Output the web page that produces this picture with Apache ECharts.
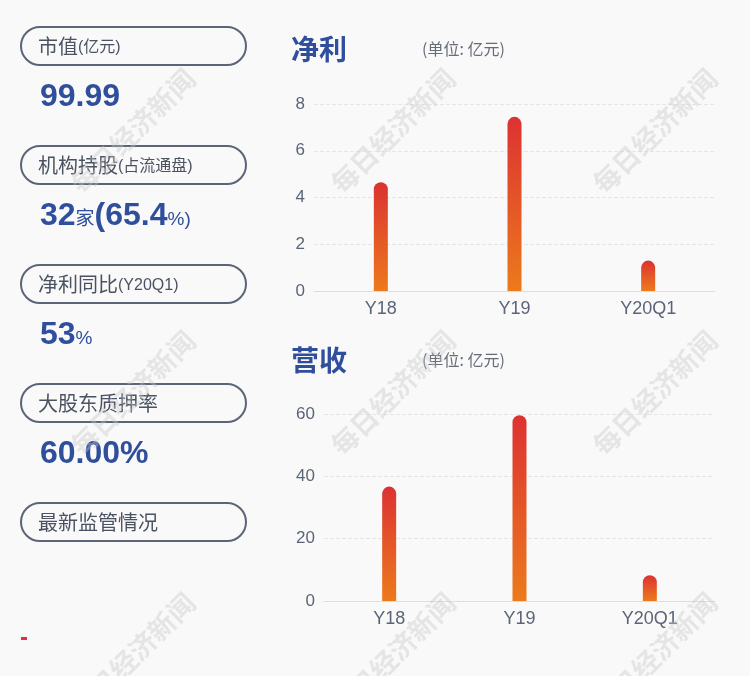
<!DOCTYPE html>
<html><head><meta charset="utf-8">
<script src="https://cdn.jsdelivr.net/npm/echarts@6/dist/echarts.min.js"></script>
<style>html,body{margin:0;padding:0;background:#f9f9f9;}#c{width:750px;height:676px;}</style>
</head><body><div id="c"></div>
<script>
var categories = ['Y18', 'Y19', 'Y20Q1'];
var netProfit = [4.65, 7.45, 1.3];
var revenue = [36.7, 59.6, 8.3];
var profitTicks = [0, 2, 4, 6, 8];
var revenueTicks = [0, 20, 40, 60];
var panelLabels = [
  {main: '市值', sub: '(亿元)'},
  {main: '机构持股', sub: '(占流通盘)'},
  {main: '净利同比', sub: '(Y20Q1)'},
  {main: '大股东质押率', sub: ''},
  {main: '最新监管情况', sub: ''}
];
var panelValues = [
  '{b|99.99}',
  '{b|32}{s|家}{b|(65.4}{s|%)}',
  '{b|53}{s|%}',
  '{b|60.00%}',
  ''
];
var FONT = '"Liberation Sans","Noto Sans CJK SC",sans-serif';
var chart = echarts.init(document.getElementById('c'));
var graphics = [];
// watermarks
[131, 393, 655].forEach(function (y) {
  [133, 393, 655].forEach(function (x) {
    graphics.push({type: 'text', x: x, y: y, rotation: Math.PI / 4, z: 100, silent: true,
      style: {text: '每日经济新闻', font: 'bold 27px "Noto Sans CJK SC"', fill: 'rgba(200,200,200,0.4)', textAlign: 'center', textVerticalAlign: 'middle'}});
  });
});
panelLabels.forEach(function (p, i) {
  var top = 27 + i * 119;
  graphics.push({type: 'rect', shape: {x: 21, y: top, width: 225, height: 38, r: 19},
    style: {fill: 'none', stroke: '#5b6577', lineWidth: 2}});
  graphics.push({type: 'text', x: 38, y: top + 19,
    style: {text: '{m|' + p.main + '}' + (p.sub ? '{p|' + p.sub + '}' : ''), textVerticalAlign: 'middle',
      rich: {m: {fontSize: 20, fill: '#4b5262', fontFamily: '"Noto Sans CJK SC"'},
             p: {fontSize: 16, fill: '#4b5262', fontFamily: FONT, padding: [4, 0, 0, 0]}}}});
  if (panelValues[i]) {
    graphics.push({type: 'text', x: 40, y: top + 70,
      style: {text: panelValues[i], textVerticalAlign: 'middle',
        rich: {b: {fontSize: 32, fontWeight: 'bold', fill: '#2f4e9c', fontFamily: FONT},
               s: {fontSize: 19, fill: '#2f4e9c', fontFamily: FONT, padding: [7, 0, 0, 0]}}}});
  }
});
graphics.push({type: 'rect', shape: {x: 21, y: 637, width: 6, height: 3}, style: {fill: '#e0313a'}});
[['净利', 49], ['营收', 360]].forEach(function (t) {
  graphics.push({type: 'text', x: 291, y: t[1], style: {text: t[0], font: 'bold 28px "Noto Sans CJK SC"', fill: '#2f4e9c', textVerticalAlign: 'middle'}});
  graphics.push({type: 'text', x: 422, y: t[1], style: {text: '(单位: 亿元)', font: '16px "Noto Sans CJK SC"', fill: '#666c78', textVerticalAlign: 'middle'}});
});
function barGrad() {
  return new echarts.graphic.LinearGradient(0, 0, 0, 1, [{offset: 0, color: '#dc3232'}, {offset: 1, color: '#ec7a1c'}]);
}
function yAxis(idx, ticks) {
  return {type: 'value', gridIndex: idx, min: ticks[0], max: ticks[ticks.length - 1], interval: ticks[1] - ticks[0],
    axisLine: {show: false}, axisTick: {show: false},
    axisLabel: {color: '#5b6577', fontSize: 17, fontFamily: FONT, margin: 9},
    splitLine: {lineStyle: {color: '#e6e6e6', type: 'dashed'}}};
}
function xAxis(idx) {
  return {type: 'category', gridIndex: idx, data: categories,
    axisLine: {lineStyle: {color: '#dddddd'}}, axisTick: {show: false},
    axisLabel: {color: '#5b6577', fontSize: 18, fontFamily: FONT, margin: 9}};
}
chart.setOption({
  backgroundColor: '#f9f9f9',
  animation: false,
  grid: [{left: 314, right: 35, top: 104, bottom: 385}, {left: 324, right: 35, top: 414, bottom: 75}],
  xAxis: [xAxis(0), xAxis(1)],
  yAxis: [yAxis(0, profitTicks), yAxis(1, revenueTicks)],
  series: [
    {type: 'bar', xAxisIndex: 0, yAxisIndex: 0, data: netProfit, barWidth: 14, itemStyle: {color: barGrad(), borderRadius: [7, 7, 0, 0]}},
    {type: 'bar', xAxisIndex: 1, yAxisIndex: 1, data: revenue, barWidth: 14, itemStyle: {color: barGrad(), borderRadius: [7, 7, 0, 0]}}
  ],
  graphic: graphics
});
</script></body></html>
